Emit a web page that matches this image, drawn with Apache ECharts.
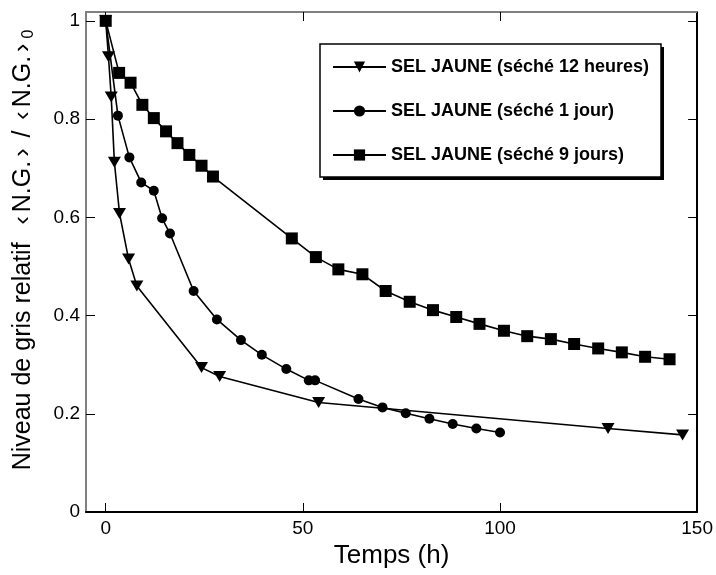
<!DOCTYPE html>
<html>
<head>
<meta charset="utf-8">
<script src="https://cdn.jsdelivr.net/npm/echarts@6/dist/echarts.min.js"></script>
<style>html,body{margin:0;padding:0;background:#fff}#c{width:716px;height:575px}</style>
</head>
<body>
<div id="c"></div>
<script>
const seriesNames = ['SEL JAUNE (séché 12 heures)', 'SEL JAUNE (séché 1 jour)', 'SEL JAUNE (séché 9 jours)'];
const h12X = [0, 0.7, 1.4, 2.2, 3.5, 5.8, 7.9, 24.3, 28.9, 54.0, 127.4, 146.3];
const h12Y = [1.0, 0.927, 0.845, 0.712, 0.608, 0.515, 0.460, 0.294, 0.276, 0.223, 0.170, 0.157];
const j1X = [0, 3.1, 6.0, 9.0, 12.2, 14.3, 16.3, 22.3, 28.2, 34.3, 39.6, 45.8, 51.5, 53.1, 64.1, 70.2, 76.1, 82.1, 88.0, 94.0, 100.0];
const j1Y = [1.0, 0.807, 0.722, 0.671, 0.654, 0.598, 0.567, 0.450, 0.392, 0.350, 0.320, 0.291, 0.268, 0.268, 0.230, 0.213, 0.201, 0.190, 0.179, 0.170, 0.162];
const j9X = [0, 3.4, 6.3, 9.3, 12.2, 15.3, 18.2, 21.2, 24.3, 27.2, 47.2, 53.3, 59.0, 65.1, 71.0, 77.1, 83.0, 88.9, 94.8, 101.0, 106.9, 112.9, 118.8, 124.9, 130.9, 136.8, 143.0];
const j9Y = [1.0, 0.894, 0.874, 0.829, 0.802, 0.775, 0.751, 0.727, 0.705, 0.683, 0.557, 0.519, 0.494, 0.484, 0.450, 0.428, 0.411, 0.397, 0.383, 0.369, 0.358, 0.352, 0.342, 0.333, 0.325, 0.316, 0.311];
const xTicks = [0, 50, 100, 150];
const yTicks = [0, 0.2, 0.4, 0.6, 0.8, 1];

const zip = (xs, ys) => xs.map((x, i) => [x, ys[i]]);
const FONT = 'Liberation Sans, Arial, sans-serif';

const chart = echarts.init(document.getElementById('c'), null, {renderer: 'canvas'});
const tick = {inside: true, length: 9, lineStyle: {color: '#000', width: 1}};
chart.setOption({
  animation: false,
  backgroundColor: '#fff',
  grid: {left: 86, right: 17, top: 12, bottom: 63, containLabel: false},
  graphic: [
    {type: 'rect', z: 3, shape: {x: 323, y: 47, width: 341, height: 133}, style: {fill: '#000'}},
    {type: 'rect', z: 3, shape: {x: 320, y: 44, width: 341, height: 133}, style: {fill: '#fff', stroke: '#000', lineWidth: 1.5}}
  ],
  legend: {
    z: 5,
    orient: 'vertical',
    left: 320, top: 44,
    padding: [14, 10, 13, 12],
    itemWidth: 53, itemHeight: 14, itemGap: 26,
    textStyle: {fontFamily: FONT, fontSize: 18, fontWeight: 'bold', color: '#000'},
    data: seriesNames
  },
  xAxis: [{
    type: 'value', position: 'bottom', min: -5, max: 150,
    splitLine: {show: false},
    axisLine: {onZero: false, lineStyle: {color: '#000', width: 2}},
    axisTick: {...tick, customValues: xTicks},
    axisLabel: {customValues: xTicks, fontFamily: FONT, fontSize: 19, color: '#000', margin: 7},
    name: 'Temps (h)', nameLocation: 'middle', nameGap: 29,
    nameTextStyle: {fontFamily: FONT, fontSize: 26, color: '#000'}
  }, {
    type: 'value', position: 'top', min: -5, max: 150,
    splitLine: {show: false},
    axisLine: {onZero: false, lineStyle: {color: '#808080', width: 2}},
    axisTick: {...tick, customValues: xTicks},
    axisLabel: {show: false}
  }],
  yAxis: [{
    type: 'value', position: 'left', min: 0, max: 1.018,
    splitLine: {show: false},
    axisLine: {onZero: false, lineStyle: {color: '#808080', width: 2}},
    axisTick: {...tick, customValues: yTicks},
    axisLabel: {customValues: yTicks, fontFamily: FONT, fontSize: 19, color: '#000', margin: 6},
    name: '{sp| }{a|Niveau de gris relatif  }{b|‹}{a|N.G.}{b|›}{a| / }{b|‹}{a|N.G.}{b|›}{s|0}',
    nameLocation: 'middle', nameGap: 49, nameRotate: 90,
    nameTextStyle: {
      fontFamily: FONT, fontSize: 25, color: '#000',
      rich: {
        sp: {width: 24, fontSize: 25},
        a: {fontFamily: FONT, fontSize: 25, color: '#000'},
        b: {fontFamily: FONT, fontSize: 25, color: '#000', padding: [0, 4, 0, 4]},
        s: {fontFamily: FONT, fontSize: 16, color: '#000', verticalAlign: 'bottom', padding: [12, 0, 0, 1]}
      }
    }
  }, {
    type: 'value', position: 'right', min: 0, max: 1.018,
    splitLine: {show: false},
    axisLine: {onZero: false, lineStyle: {color: '#000', width: 2}},
    axisTick: {...tick, customValues: yTicks},
    axisLabel: {show: false}
  }],
  series: [{
    name: seriesNames[0], type: 'line', data: zip(h12X, h12Y),
    symbol: 'triangle', symbolRotate: 180, symbolSize: [13, 11],
    lineStyle: {color: '#000', width: 1.6}, itemStyle: {color: '#000'}
  }, {
    name: seriesNames[1], type: 'line', data: zip(j1X, j1Y),
    symbol: 'circle', symbolSize: 10,
    lineStyle: {color: '#000', width: 1.6}, itemStyle: {color: '#000'}
  }, {
    name: seriesNames[2], type: 'line', data: zip(j9X, j9Y),
    symbol: 'rect', symbolSize: 12,
    lineStyle: {color: '#000', width: 1.6}, itemStyle: {color: '#000'}
  }]
});
</script>
</body>
</html>
